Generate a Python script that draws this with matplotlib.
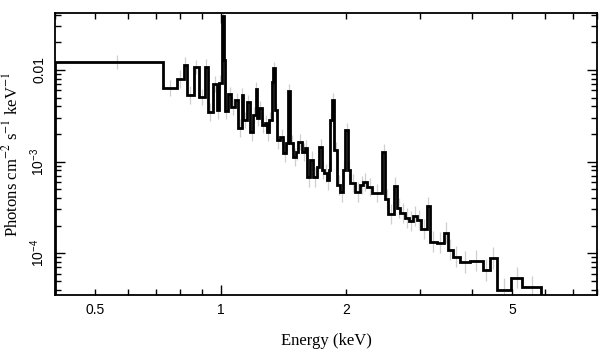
import numpy as np
import matplotlib
matplotlib.use("Agg")
import matplotlib.pyplot as plt
from matplotlib.ticker import LogLocator, NullFormatter

# bin edges (keV) and model flux (photons cm^-2 s^-1 keV^-1)
edges = [0.400, 0.725, 0.783, 0.814, 0.828, 0.861, 0.885, 0.915, 0.930, 0.957,
         0.978, 0.989, 1.006, 1.016, 1.023, 1.038, 1.061, 1.081, 1.101, 1.122,
         1.132, 1.153, 1.175, 1.196, 1.212, 1.223, 1.237, 1.253, 1.277, 1.289,
         1.307, 1.325, 1.337, 1.349, 1.362, 1.387, 1.413, 1.432, 1.453, 1.467,
         1.491, 1.516, 1.533, 1.568, 1.594, 1.612, 1.639, 1.666, 1.704, 1.723,
         1.752, 1.771, 1.801, 1.816, 1.831, 1.851, 1.872, 1.904, 1.936, 1.968,
         1.990, 2.023, 2.046, 2.104, 2.163, 2.199, 2.248, 2.312, 2.443, 2.475,
         2.526, 2.601, 2.648, 2.700, 2.761, 2.830, 2.894, 2.962, 3.025, 3.119,
         3.171, 3.297, 3.427, 3.504, 3.603, 3.745, 3.960, 4.256, 4.424, 4.599,
         4.971, 5.283, 5.871]

flux = [0.01223, 0.00637, 0.00798, 0.01134, 0.00534, 0.01078, 0.00508, 0.01078,
        0.00348, 0.00704, 0.00366, 0.00721, 0.0388, 0.01285, 0.00357, 0.00547,
        0.00395, 0.00471, 0.00233, 0.00534, 0.00285, 0.00448, 0.00211, 0.00323,
        0.00621, 0.00300, 0.00385, 0.00251, 0.00264, 0.00211, 0.00285, 0.00740,
        0.01051, 0.00366, 0.00172, 0.00186, 0.00124, 0.00160, 0.00590, 0.00160,
        0.00112, 0.00128, 0.00164, 0.00128, 0.00141, 0.000681, 0.00104, 0.000681,
        0.000875, 0.00145, 0.000812, 0.000753, 0.000632, 0.000812, 0.00285, 0.00471,
        0.00134, 0.000557, 0.000467, 0.000812, 0.00222, 0.000812, 0.000586, 0.000467,
        0.000557, 0.000601, 0.000530, 0.000456, 0.00128, 0.000392, 0.000269, 0.000543,
        0.000313, 0.000276, 0.000243, 0.000225, 0.000256, 0.000231, 0.000185, 0.000329,
        0.000133, 0.000130, 0.000167, 0.000109, 0.0000913, 0.0000805, 0.0000826,
        0.0000659, 0.0000891, 0.0000399, 0.0000539, 0.0000430]

# relative size of the grey data error bars
rel_err = [0.20, 0.22, 0.25, 0.22, 0.25, 0.20, 0.22, 0.22, 0.25, 0.22, 0.25, 0.22,
           0.15, 0.20, 0.22, 0.20, 0.22, 0.20, 0.25, 0.20, 0.22, 0.20, 0.25, 0.22,
           0.18, 0.22, 0.20, 0.22, 0.22, 0.25, 0.22, 0.18, 0.15, 0.20, 0.25, 0.22,
           0.25, 0.22, 0.18, 0.22, 0.25, 0.22, 0.22, 0.25, 0.22, 0.28, 0.25, 0.28,
           0.25, 0.22, 0.25, 0.25, 0.28, 0.25, 0.20, 0.18, 0.22, 0.28, 0.28, 0.25,
           0.18, 0.25, 0.25, 0.28, 0.25, 0.25, 0.25, 0.25, 0.22, 0.28, 0.28, 0.25,
           0.28, 0.28, 0.28, 0.28, 0.28, 0.28, 0.28, 0.25, 0.30, 0.30, 0.30, 0.30,
           0.30, 0.32, 0.30, 0.32, 0.32, 0.35, 0.30, 0.30]

x_ticks = [0.5, 1, 2, 5]
x_labels = ["0.5", "1", "2", "5"]
y_ticks = [1e-2, 1e-3, 1e-4]
y_labels = ["0.01", "10$^{-3}$", "10$^{-4}$"]

plt.rcParams["mathtext.fontset"] = "custom"
plt.rcParams["mathtext.rm"] = "Liberation Sans"
plt.rcParams["mathtext.it"] = "Liberation Sans:italic"

fig = plt.figure(figsize=(6.08, 3.57), dpi=100)
ax = fig.add_axes([55 / 608, 1 - 295 / 357, 542 / 608, 281.7 / 357])
ax.set_xscale("log")
ax.set_yscale("log")

e = np.array(edges)
f = np.array(flux)
r = np.array(rel_err)
centers = 0.5 * (e[:-1] + e[1:])
ax.errorbar(centers, f, yerr=[f - f / (1 + r), f * r], fmt="none",
            ecolor="#cfcfcf", elinewidth=0.9, zorder=1)
ax.stairs(f, e, baseline=1e-6, color="black", linewidth=2.0, zorder=2)

ax.set_xlim(0.4, 8.0)
ax.set_ylim(3.5e-5, 0.0415)

# x: long tick at 1, short ticks elsewhere, labels at 0.5, 1, 2, 5
minor_x = [0.4, 0.5, 0.6, 0.7, 0.8, 0.9, 2, 3, 4, 5, 6, 7, 8]
ax.set_xticks([1], labels=["1"])
ax.set_xticks(minor_x, labels=[x_labels[x_ticks.index(v)] if v in x_ticks else ""
                               for v in minor_x], minor=True)
ax.set_yticks(y_ticks, labels=y_labels)
ax.yaxis.set_minor_locator(LogLocator(base=10, subs=np.arange(2, 10)))
ax.yaxis.set_minor_formatter(NullFormatter())

ax.tick_params(which="both", direction="in", top=True, right=True, width=1.0,
               labelsize=10, pad=6)
ax.tick_params(which="major", length=7)
ax.tick_params(which="minor", length=4)
for lab in ax.get_xticklabels(which="both"):
    lab.set_fontfamily("Liberation Sans")
for lab in ax.get_yticklabels():
    lab.set_fontfamily("Liberation Sans")
    lab.set_rotation(90)
    lab.set_va("center")

for sp in ax.spines.values():
    sp.set_linewidth(1.3)

ax.set_xlabel("Energy (keV)", fontfamily="Liberation Serif", fontsize=12,
              labelpad=11)
ylab = ax.set_ylabel("Photons cm$^{-2}$ s$^{-1}$ keV$^{-1}$",
                     fontfamily="Liberation Serif", fontsize=12, labelpad=5)
ylab.set_math_fontfamily("stix")

fig.savefig("out.png", dpi=100)
